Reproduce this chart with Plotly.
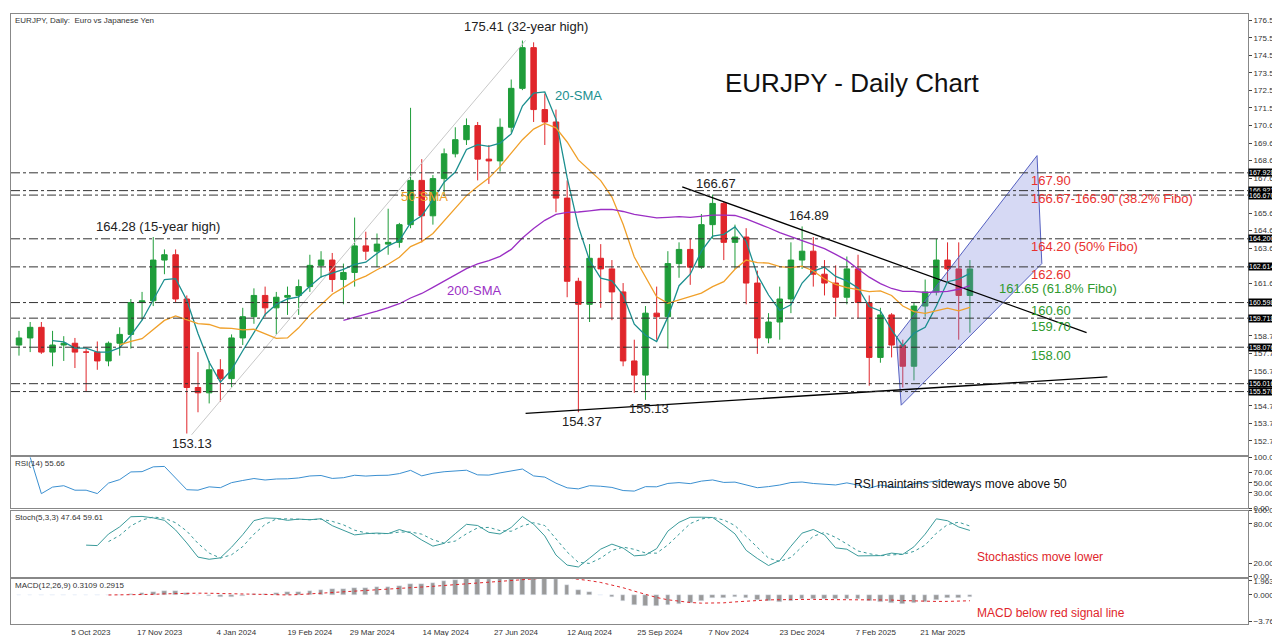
import pandas as pd
import plotly.graph_objects as go
from plotly.subplots import make_subplots

# weekly OHLC (approximate)
dates = pd.date_range("2023-08-21", periods=86, freq="W-MON")
opens = [158.2, 158.6, 159.2, 157.8, 158.2, 158.3, 157.8, 157.8, 157.3, 158.3, 158.8, 160.6, 160.7, 163.0, 163.3, 160.8,
         155.8, 155.5, 156.8, 156.3, 158.6, 159.8, 161.0, 160.3, 160.9, 161.0, 161.5, 162.7, 163.0, 161.9, 162.3, 163.8,
         163.5, 163.9, 164.0, 165.0, 167.5, 165.5, 167.6, 169.0, 169.8, 170.6, 168.7, 168.6, 170.5, 172.7, 175.0, 171.5,
         170.8, 166.5, 161.8, 160.5, 163.1, 162.5, 161.2, 157.3, 156.5, 160.0, 159.8, 162.8, 163.6, 162.6, 165.0, 166.2,
         164.0, 164.3, 161.7, 158.6, 159.5, 160.8, 163.0, 163.5, 162.2, 161.7, 160.9, 162.5, 160.6, 157.5, 159.9, 158.2,
         157.0, 160.4, 161.2, 163.0, 162.5, 161.0]
highs = [159.0, 159.5, 159.5, 159.0, 158.7, 158.6, 158.0, 158.4, 158.4, 159.2, 160.8, 161.2, 164.3, 163.6, 163.6, 161.0,
         157.8, 157.3, 157.4, 158.8, 160.3, 161.4, 161.5, 161.2, 161.5, 161.9, 163.3, 163.5, 163.4, 162.8, 165.4, 164.6,
         164.5, 165.9, 165.1, 171.6, 168.7, 167.8, 169.3, 170.5, 171.0, 170.8, 169.5, 171.0, 173.2, 175.4, 175.3, 172.4,
         171.5, 167.5, 162.0, 163.9, 163.9, 163.0, 161.7, 158.5, 160.4, 161.5, 163.5, 164.0, 164.2, 165.6, 166.7, 166.3,
         165.0, 164.8, 162.4, 160.0, 161.5, 164.0, 164.9, 164.3, 163.0, 162.7, 163.2, 163.3, 161.0, 160.3, 160.0, 158.5,
         160.6, 161.9, 164.2, 164.0, 164.0, 163.0]
lows = [157.6, 157.8, 157.7, 157.0, 157.3, 156.9, 155.6, 156.8, 157.0, 157.6, 158.0, 159.6, 160.4, 162.2, 160.6, 153.2,
        154.4, 154.9, 155.0, 155.8, 158.2, 159.4, 159.8, 158.8, 159.9, 159.9, 161.2, 162.0, 161.2, 160.5, 161.5, 163.0,
        162.6, 163.3, 163.7, 164.8, 164.0, 165.0, 166.6, 168.8, 169.5, 167.5, 167.3, 168.0, 170.2, 172.6, 170.8, 169.5,
        165.7, 160.9, 154.4, 159.5, 160.3, 159.6, 157.0, 155.5, 155.1, 158.5, 158.0, 162.0, 161.6, 162.5, 164.2, 163.0,
        162.5, 160.5, 157.7, 158.3, 158.5, 160.0, 162.5, 161.5, 161.0, 159.8, 160.5, 159.7, 155.9, 157.2, 157.5, 155.8,
        156.2, 159.8, 161.0, 161.7, 158.5, 158.9]
closes = [158.6, 159.2, 157.8, 158.2, 158.3, 157.8, 157.8, 157.3, 158.3, 158.8, 160.6, 160.7, 163.0, 163.3, 160.8, 155.8,
          155.5, 156.8, 156.3, 158.6, 159.8, 161.0, 160.3, 160.9, 161.0, 161.5, 162.7, 163.0, 161.9, 162.3, 163.8, 163.5,
          163.9, 164.0, 165.0, 167.5, 165.5, 167.6, 169.0, 169.8, 170.6, 168.7, 168.6, 170.5, 172.7, 175.0, 171.5, 170.8,
          166.5, 161.8, 160.5, 163.1, 162.5, 161.2, 157.3, 156.5, 160.0, 159.8, 162.8, 163.6, 162.6, 165.0, 166.2, 164.0,
          164.3, 161.7, 158.6, 159.5, 160.8, 163.0, 163.5, 162.2, 161.7, 160.9, 162.5, 160.6, 157.5, 159.9, 158.2, 157.0,
          160.4, 161.2, 163.0, 162.5, 161.0, 162.5]

# horizontal levels and their axis tags
level_values = [167.928, 166.921, 166.670, 164.200, 162.614, 160.598, 159.718, 158.076, 156.016, 155.570]
level_notes = ["167.90", "166.67-166.90 (38.2% Fibo)", None, "164.20 (50% Fibo)", "162.60", "160.60", "159.70", "158.00",
               None, None]
note_colors = ["#e8312f", "#e8312f", None, "#e8312f", "#e8312f", "#2e9a2e", "#2e9a2e", "#2e9a2e", None, None]

# trend lines (date, price) pairs
resistance = (["2024-10-09", "2025-06-19"], [167.14, 158.9])
support = (["2024-07-03", "2025-07-02"], [154.34, 156.4])
channel_x = ["2025-02-20", "2025-05-19", "2025-05-22", "2025-02-23", "2025-02-20"]
channel_y = [158.6, 168.9, 162.8, 154.8, 158.6]
fib_line = (["2023-12-07", "2024-07-03"], [153.13, 175.41])

df = pd.DataFrame({"o": opens, "h": highs, "l": lows, "c": closes}, index=dates)
df["sma20"] = df.c.rolling(4).mean()
df["sma50"] = df.c.rolling(10).mean()
df["sma200"] = df.c.rolling(30).mean()
delta = df.c.diff()
up = delta.clip(lower=0).ewm(alpha=1 / 14).mean()
dn = (-delta.clip(upper=0)).ewm(alpha=1 / 14).mean()
df["rsi"] = 100 - 100 / (1 + up / dn)
lo5, hi5 = df.l.rolling(5).min(), df.h.rolling(5).max()
df["k"] = (100 * (df.c - lo5) / (hi5 - lo5)).rolling(3).mean()
df["d"] = df.k.rolling(3).mean()
macd = df.c.ewm(span=12).mean() - df.c.ewm(span=26).mean()
df["macd"] = macd
df["sig"] = macd.rolling(9).mean()

fig = make_subplots(rows=4, cols=1, shared_xaxes=True, vertical_spacing=0.004,
                    row_heights=[0.735, 0.085, 0.11, 0.075])
fig.add_trace(go.Candlestick(x=df.index, open=df.o, high=df.h, low=df.l, close=df.c,
                             increasing=dict(line=dict(color="#1f9d3a", width=1), fillcolor="#1f9d3a"),
                             decreasing=dict(line=dict(color="#e0262b", width=1), fillcolor="#e0262b"),
                             whiskerwidth=0), row=1, col=1)
fig.add_trace(go.Scatter(x=channel_x, y=channel_y, fill="toself", fillcolor="rgba(120,130,220,0.3)",
                         line=dict(color="#5560c0", width=1), mode="lines"), row=1, col=1)
for (lx, ly), col, w in [(resistance, "black", 1.3), (support, "black", 1.3), (fib_line, "#c8c8c8", 1)]:
    fig.add_trace(go.Scatter(x=lx, y=ly, mode="lines", line=dict(color=col, width=w)), row=1, col=1)
for name, col in [("sma20", "#1b8f8f"), ("sma50", "#f0a02a"), ("sma200", "#9b2fc4")]:
    fig.add_trace(go.Scatter(x=df.index, y=df[name], mode="lines", line=dict(color=col, width=1.3)), row=1, col=1)

fig.add_trace(go.Scatter(x=df.index, y=df.rsi, mode="lines", line=dict(color="#3a8fd0", width=1)), row=2, col=1)
fig.add_trace(go.Scatter(x=df.index, y=df.k, mode="lines", line=dict(color="#3a9a9a", width=1)), row=3, col=1)
fig.add_trace(go.Scatter(x=df.index, y=df.d, mode="lines", line=dict(color="#3a9a9a", width=1, dash="dot")), row=3, col=1)
fig.add_trace(go.Bar(x=df.index, y=df.macd, marker_color="#9a9a9a", width=2.5e8), row=4, col=1)
fig.add_trace(go.Scatter(x=df.index, y=df.sig, mode="lines", line=dict(color="#e0262b", width=1, dash="dot")), row=4, col=1)

for v in level_values:
    fig.add_hline(y=v, line=dict(color="#333", width=1, dash="dashdot"), row=1, col=1)
    fig.add_annotation(x=1.0, xref="paper", y=v, yref="y", text=f"{v:.3f}", showarrow=False, xanchor="left",
                       font=dict(size=7, color="white"), bgcolor="black", borderpad=0)
for v, t, c in zip(level_values, level_notes, note_colors):
    if t:
        fig.add_annotation(x="2025-05-14", y=v - 0.45, text=t, showarrow=False, xanchor="left",
                           font=dict(size=13, color=c))
fig.add_annotation(x="2025-04-24", y=161.4, text="161.65 (61.8% Fibo)", showarrow=False, xanchor="left",
                   font=dict(size=13, color="#2e9a2e"))
for x, y, t in [("2024-07-03", 176.2, "175.41 (32-year high)"), ("2023-11-16", 164.9, "164.28 (15-year high)"),
                ("2023-12-07", 152.65, "153.13"), ("2024-08-07", 153.9, "154.37"), ("2024-09-18", 154.6, "155.13"),
                ("2024-10-30", 167.3, "166.67"), ("2024-12-27", 165.5, "164.89")]:
    fig.add_annotation(x=x, y=y, text=t, showarrow=False, font=dict(size=13, color="#222"))
for x, y, t, c in [("2024-08-05", 172.3, "20-SMA", "#1b8f8f"), ("2024-05-01", 166.6, "50-SMA", "#f0a02a"),
                   ("2024-06-01", 161.3, "200-SMA", "#9b2fc4")]:
    fig.add_annotation(x=x, y=y, text=t, showarrow=False, font=dict(size=13, color=c))
fig.add_annotation(x=0.68, y=0.915, xref="paper", yref="paper", text="EURJPY - Daily Chart", showarrow=False,
                   xanchor="center", font=dict(size=26, color="#111"))
fig.add_annotation(x="2025-04-01", y=47, yref="y2", text="RSI maintains sideways move above 50", showarrow=False,
                   font=dict(size=12, color="#111"))
fig.add_annotation(x="2025-04-10", y=30, yref="y3", text="Stochastics move lower", showarrow=False,
                   xanchor="left", font=dict(size=12, color="#e0262b"))
fig.add_annotation(x="2025-04-10", y=-2.6, yref="y4", text="MACD below red signal line", showarrow=False,
                   xanchor="left", font=dict(size=12, color="#e0262b"))
for yr, t in [("y domain", "EURJPY, Daily:  Euro vs Japanese Yen"), ("y2 domain", "RSI(14) 55.66"),
              ("y3 domain", "Stoch(5,3,3) 47.64 59.61"), ("y4 domain", "MACD(12,26,9) 0.3109 0.2915")]:
    fig.add_annotation(x=0.002, xref="paper", y=1.0, yref=yr, text=t, showarrow=False, xanchor="left",
                       yanchor="top", font=dict(size=8, color="#333"))

axis_style = dict(showgrid=False, mirror=True, showline=True, linecolor="#888", side="right",
                  ticks="outside", ticklen=3, tickfont=dict(size=8, color="#333"), zeroline=False)
fig.update_yaxes(axis_style)
fig.update_yaxes(range=[152.0, 176.9], tick0=152.78, dtick=0.99, tickformat=".3f", row=1, col=1)
fig.update_yaxes(range=[0, 100], tickvals=[0, 30, 50, 70, 100], tickformat=".2f", row=2, col=1)
fig.update_yaxes(range=[0, 100], tickvals=[0, 20, 80, 100], tickformat=".2f", row=3, col=1)
fig.update_yaxes(range=[-4.1, 2.2], tickvals=[-3.7674, 0, 1.9636], tickformat=".4f", row=4, col=1)
fig.update_xaxes(range=["2023-08-16", "2025-09-28"], showgrid=False, mirror=True, showline=True, linecolor="#888",
                 rangeslider_visible=False, tickfont=dict(size=8, color="#333"), ticks="")
tick_dates = ["2023-08-22", "2023-10-05", "2023-11-17", "2024-01-04", "2024-02-19", "2024-03-29", "2024-05-14",
              "2024-06-27", "2024-08-12", "2024-09-25", "2024-11-07", "2024-12-23", "2025-02-07", "2025-03-21"]
fig.update_xaxes(tickvals=tick_dates, ticktext=[pd.Timestamp(d).strftime("%-d %b %Y") for d in tick_dates], row=4, col=1)
fig.update_layout(width=1280, height=636, margin=dict(l=2, r=40, t=4, b=20), showlegend=False,
                  plot_bgcolor="white", paper_bgcolor="white", font=dict(family="Liberation Sans"), bargap=0)
fig.write_html("out.html")
